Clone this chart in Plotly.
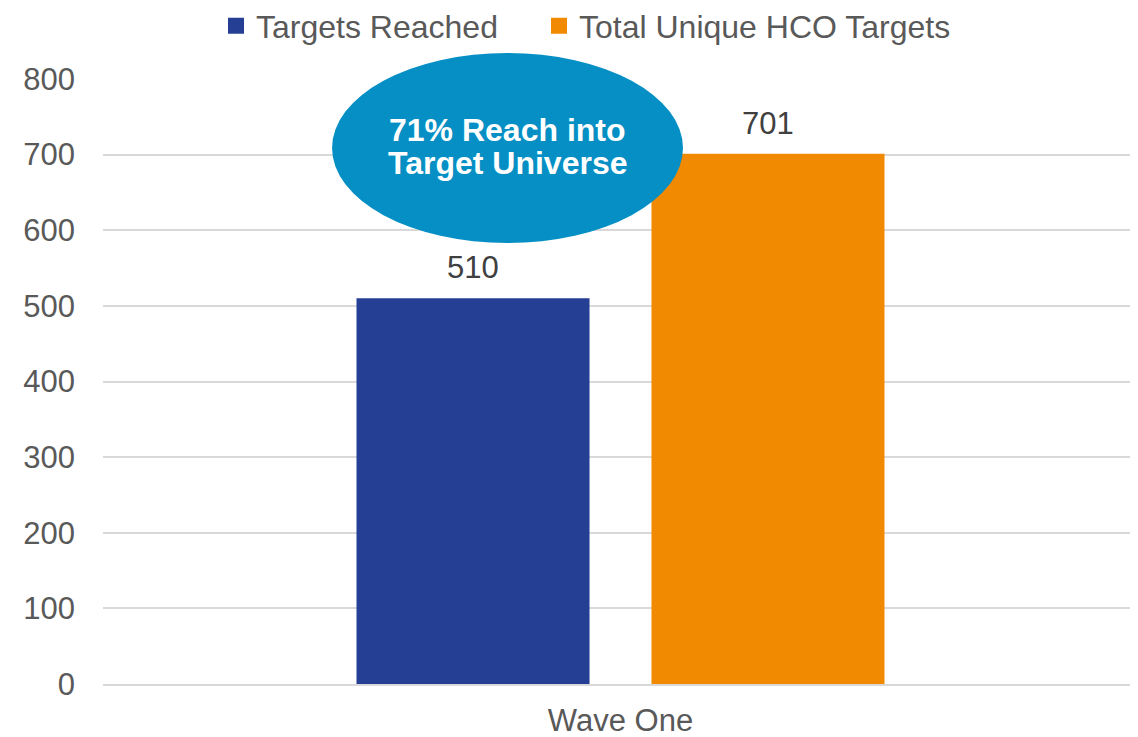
import plotly.graph_objects as go

categories = ["Wave One"]
series_names = ["Targets Reached", "Total Unique HCO Targets"]
targets_reached = [510]
total_targets = [701]
series_colors = ["#253F94", "#F18A00"]
y_ticks = [0, 100, 200, 300, 400, 500, 600, 700, 800]
callout_lines = ["71% Reach into", "Target Universe"]

FONT = "Liberation Sans, Arial, sans-serif"
W, H = 1130, 729  # page body has an 8px margin

fig = go.Figure()
all_vals = [targets_reached, total_targets]
for name, vals, col in zip(series_names, all_vals, series_colors):
    fig.add_trace(go.Bar(
        x=categories, y=vals, name=name, marker=dict(color=col, line=dict(width=0)),
        showlegend=False,
    ))

# legend entries with larger square symbols
for i, (name, col) in enumerate(zip(series_names, series_colors)):
    fig.add_trace(go.Scatter(
        x=[None], y=[None], mode="markers", name=name,
        marker=dict(symbol="square", size=16, color=col),
        legend="legend" if i == 0 else "legend2",
    ))

# value labels
for j, (vals, shift) in enumerate(zip(all_vals, [-147.5, 147.5])):
    for c, v in zip(categories, vals):
        fig.add_annotation(x=c, y=v, xshift=shift, yshift=11, text=str(v),
                           showarrow=False, yanchor="bottom",
                           font=dict(family=FONT, size=31, color="#404040"))

# callout ellipse
fig.add_shape(type="circle", xref="paper", yref="paper",
              x0=0.2213, x1=0.5604, y0=0.729, y1=1.043,
              fillcolor="#068FC4", line=dict(width=0), layer="above")
for i, line in enumerate(callout_lines):
    fig.add_annotation(xref="paper", yref="paper", x=0.391, y=0.915 - i * 0.054,
                       text=f"<b>{line}</b>", showarrow=False,
                       font=dict(family=FONT, size=32, color="white"),
                       xanchor="center", yanchor="middle")

leg_common = dict(orientation="h", yref="container", y=(H - 18) / H, yanchor="middle",
                  xref="container", xanchor="left",
                  font=dict(family=FONT, size=32, color="#595959"),
                  itemwidth=30, bgcolor="rgba(0,0,0,0)")
fig.update_layout(
    width=W, height=H,
    margin=dict(l=95, r=0, t=71, b=53, autoexpand=False),
    paper_bgcolor="white", plot_bgcolor="white",
    barmode="group", bargap=0.43, bargroupgap=0.21,
    font=dict(family=FONT, size=31, color="#595959"),
    showlegend=True,
    legend=dict(x=208 / W, **leg_common),
    legend2=dict(x=531 / W, **leg_common),
)
fig.update_yaxes(range=[0, 800], tickvals=y_ticks, showgrid=True, gridcolor="#D9D9D9",
                 gridwidth=1.5, zeroline=False, showline=False, ticks="",
                 ticklabelstandoff=27, tickfont=dict(family=FONT, size=31, color="#595959"))
fig.update_xaxes(showline=True, linecolor="#D9D9D9", linewidth=2, ticks="",
                 ticklabelstandoff=8, tickfont=dict(family=FONT, size=31, color="#595959"))

fig.write_html("out.html")
